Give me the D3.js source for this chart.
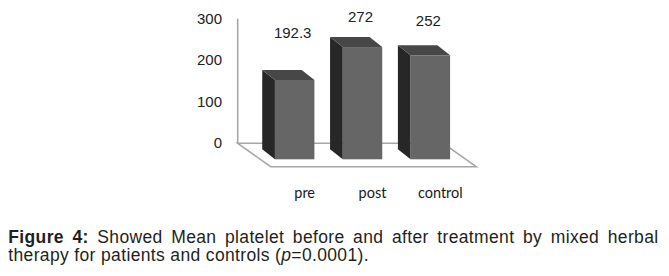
<!DOCTYPE html>
<html>
<head>
<meta charset="utf-8">
<script src="https://cdn.jsdelivr.net/npm/d3@7"></script>
<style>
  body { margin: 0; background: #fff; }
  svg { display: block; }
</style>
</head>
<body>
<script>
// chart data
var categories = ['pre', 'post', 'control'];
var means = [192.3, 272, 252];
var meanLabels = ['192.3', '272', '252'];
var yTicks = [0, 100, 200, 300];

var captionHead = 'Figure 4:';
var captionLine1 = 'Showed Mean platelet before and after treatment by mixed herbal';
var captionLine2a = 'therapy for patients and controls (';
var captionLine2p = 'p';
var captionLine2b = '=0.0001).';

// layout
var width = 669, height = 276;
var axis_x = 237.7;
var depth = { dx: 12.7, dy: 10 };     // bar depth (front face -> back face)
var floor_depth = { dx: 33, dy: 23.4 };
var front_shift = 16.8;               // front face baseline below back wall baseline
var label_lift = [31, 14, 18];        // hand-placed data labels, like the original

var svg = d3.select('body')
    .append('svg')
    .attr('width', width)
    .attr('height', height);

var y = d3.scaleLinear()
    .domain([0, 300])
    .range([142.5, 18.7]);

var x = d3.scaleBand()
    .domain(categories)
    .range([241, 484])
    .paddingInner(0.418)
    .paddingOuter(0.5);

var chart = svg.append('g').attr('id', 'chart');

// floor
var floor_y = y(0) + 0.8;
var floor_w = 205.5;
var floor_pts = [
    [axis_x, floor_y],
    [axis_x + floor_w, floor_y],
    [axis_x + floor_w + floor_depth.dx, floor_y + floor_depth.dy],
    [axis_x + floor_depth.dx, floor_y + floor_depth.dy]
];
chart.append('polygon')
    .attr('points', floor_pts.map(function(p) { return p.join(','); }).join(' '))
    .attr('fill', '#fff')
    .attr('stroke', '#a6a6a6')
    .attr('stroke-width', 1.6);

// value axis line
chart.append('line')
    .attr('x1', axis_x).attr('x2', axis_x)
    .attr('y1', y(300)).attr('y2', floor_y)
    .attr('stroke', '#a6a6a6')
    .attr('stroke-width', 1.6);

// tick labels
chart.selectAll('text.tick')
    .data(yTicks)
    .enter()
    .append('text')
    .attr('class', 'tick')
    .attr('x', 222)
    .attr('y', function(d) { return y(d); })
    .attr('dy', '0.36em')
    .attr('text-anchor', 'end')
    .style('font-family', 'Liberation Sans, Arial, sans-serif')
    .style('font-size', '15px')
    .attr('fill', '#222')
    .text(function(d) { return d; });

// 3d bars
var bars = chart.selectAll('g.bar')
    .data(categories.map(function(c, i) { return { cat: c, v: means[i], label: meanLabels[i], i: i }; }))
    .enter()
    .append('g')
    .attr('class', 'bar');

function front_top(d) { return y(d.v) + front_shift; }
var front_bottom = y(0) + front_shift;

bars.append('polygon')   // side
    .attr('points', function(d) {
        var x0 = x(d.cat), yt = front_top(d);
        return [
            [x0 - depth.dx, yt - depth.dy],
            [x0, yt],
            [x0, front_bottom],
            [x0 - depth.dx, front_bottom - depth.dy]
        ].map(function(p) { return p.join(','); }).join(' ');
    })
    .attr('fill', '#272727');

bars.append('rect')      // front
    .attr('x', function(d) { return x(d.cat); })
    .attr('y', front_top)
    .attr('width', x.bandwidth())
    .attr('height', function(d) { return front_bottom - front_top(d); })
    .attr('fill', '#666666');

bars.append('polygon')   // top
    .attr('points', function(d) {
        var x0 = x(d.cat), x1 = x0 + x.bandwidth(), yt = front_top(d);
        return [
            [x0 - depth.dx, yt - depth.dy],
            [x1 - depth.dx, yt - depth.dy],
            [x1, yt],
            [x0, yt]
        ].map(function(p) { return p.join(','); }).join(' ');
    })
    .attr('fill', '#474747');

// value labels
bars.append('text')
    .attr('x', function(d) { return x(d.cat) + x.bandwidth() / 2 - 2; })
    .attr('y', function(d) { return y(d.v) - label_lift[d.i]; })
    .attr('dy', '0.36em')
    .attr('text-anchor', 'middle')
    .style('font-family', 'Liberation Sans, Arial, sans-serif')
    .style('font-size', '15px')
    .attr('fill', '#222')
    .text(function(d) { return d.label; });

// category labels
chart.selectAll('text.cat')
    .data(categories)
    .enter()
    .append('text')
    .attr('class', 'cat')
    .attr('x', function(d) { return x(d) + x.bandwidth() / 2 + 10; })
    .attr('y', 193)
    .attr('dy', '0.36em')
    .attr('text-anchor', 'middle')
    .style('font-family', 'Lato, sans-serif')
    .style('font-size', '14.5px')
    .attr('fill', '#1a1a1a')
    .text(function(d) { return d; });

// caption
var cap = svg.append('g')
    .attr('id', 'caption')
    .style('font-family', 'Liberation Sans, Arial, sans-serif')
    .style('font-size', '17.5px')
    .style('letter-spacing', '0.35px')
    .attr('fill', '#231f20');

// line 1 is justified between the margins
var words = captionHead.split(' ').map(function(w) { return { t: w, b: true }; })
    .concat(captionLine1.split(' ').map(function(w) { return { t: w, b: false }; }));
var left = 8.3, right = 658.5, base1 = 242.7, base2 = 261.3;

var wtexts = cap.selectAll('text.w')
    .data(words)
    .enter()
    .append('text')
    .attr('class', 'w')
    .attr('y', base1)
    .style('font-weight', function(d) { return d.b ? 'bold' : 'normal'; })
    .text(function(d) { return d.t; });

var widths = [];
wtexts.each(function() { widths.push(this.getComputedTextLength()); });
var gap = (right - left - d3.sum(widths)) / (words.length - 1);
var cx = left;
wtexts.attr('x', function(d, i) {
    var px = cx;
    cx += widths[i] + gap;
    return px;
});

var line2 = cap.append('text')
    .attr('x', left)
    .attr('y', base2);
line2.append('tspan').text(captionLine2a);
line2.append('tspan').style('font-style', 'italic').text(captionLine2p);
line2.append('tspan').text(captionLine2b);
</script>
</body>
</html>
